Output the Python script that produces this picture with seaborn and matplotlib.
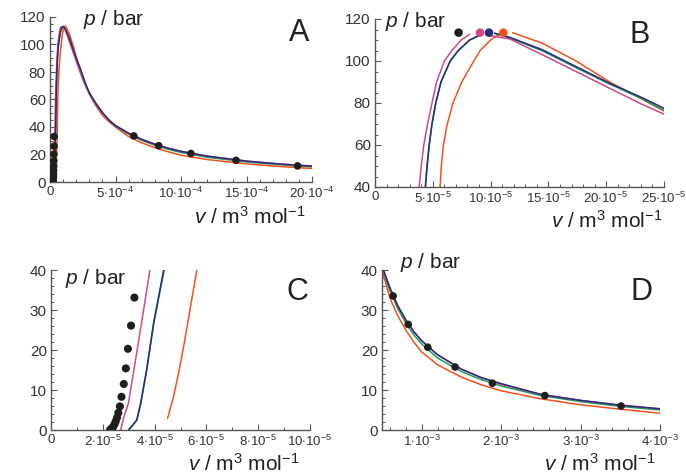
import numpy as np
import pandas as pd
import matplotlib
matplotlib.use("Agg")
import matplotlib.pyplot as plt
from matplotlib.ticker import MultipleLocator, FuncFormatter
import seaborn as sns

# ---------------- data (v in 1e-5 m3/mol, p in bar) ----------------
# liquid branches
v_liq_pink = [2.69, 2.80, 2.99, 3.20, 3.41, 3.82, 4.00, 4.22, 4.55, 4.93, 5.33, 6.00, 6.65, 7.46, 8.18]
p_liq_pink = [0.0, 3.0, 6.7, 15.0, 23.3, 40.0, 50.0, 60.0, 70.0, 80.0, 90.0, 100.0, 105.0, 110.0, 112.7]
v_liq_navy = [2.99, 3.15, 3.31, 3.46, 3.69, 3.96, 4.35, 4.50, 4.68, 4.92, 5.25, 5.70, 6.50, 7.20, 8.18, 9.34]
p_liq_navy = [0.0, 1.2, 2.5, 6.7, 15.0, 26.7, 40.0, 50.0, 60.0, 70.0, 80.0, 90.0, 100.0, 105.0, 110.0, 113.0]
v_liq_green = [3.00, 3.16, 3.32, 3.47, 3.70, 3.97, 4.37, 4.52, 4.70, 4.94, 5.27, 5.72, 6.52, 7.22, 8.20, 9.34]
p_liq_green = [0.0, 1.2, 2.5, 6.7, 15.0, 26.7, 40.0, 50.0, 60.0, 70.0, 80.0, 90.0, 100.0, 105.0, 110.0, 113.0]
v_liq_orange = [4.50, 4.73, 4.95, 5.12, 5.63, 5.74, 5.92, 6.25, 6.75, 7.50, 8.55, 9.10, 10.00, 10.64]
p_liq_orange = [2.9, 8.3, 15.0, 20.8, 40.0, 50.0, 60.0, 70.0, 80.0, 90.0, 100.0, 105.0, 110.0, 112.4]

# vapour branches
v_vap_pink = [9.6, 11.65, 14.5, 17.4, 20.3, 23.2, 25, 27.5, 30, 32.5, 35, 40, 45, 50, 60, 70, 80,
              90, 100, 120, 150, 175, 200, 250, 300, 350, 400]
p_vap_pink = [112.4, 110.5, 102.9, 95.0, 87.0, 79.1, 74.7, 69.5, 64.5, 60.5, 57.0, 50.3, 45.0, 41.0,
              35.5, 31.0, 27.5, 24.6, 22.3, 18.8, 15.2, 13.1, 11.4, 8.9, 7.4, 6.2, 5.3]
v_vap_navy = [10.35, 11.65, 14.5, 17.4, 20.3, 23.2, 25, 27.5, 30, 32.5, 35, 40, 45, 50, 60, 70, 80,
              90, 100, 120, 150, 175, 200, 250, 300, 350, 400]
p_vap_navy = [113.2, 111.3, 105.3, 97.3, 89.4, 82.3, 77.5, 70.5, 65.0, 61.0, 57.3, 50.5, 45.2, 41.0,
              35.5, 31.0, 27.5, 24.6, 22.3, 18.8, 15.2, 13.1, 11.6, 8.9, 7.4, 6.2, 5.3]
v_vap_green = [10.35, 11.65, 14.5, 17.4, 20.3, 23.2, 25, 27.5, 30, 32.5, 35, 40, 45, 50, 60, 70, 80,
               90, 100, 120, 150, 175, 200, 250, 300, 350, 400]
p_vap_green = [113.2, 111.0, 104.8, 96.8, 89.0, 81.8, 76.5, 70.0, 64.7, 60.6, 56.9, 50.2, 44.8, 40.5,
               34.8, 30.3, 26.7, 23.8, 21.5, 18.0, 14.6, 12.6, 11.0, 8.6, 7.1, 5.9, 5.0]
v_vap_orange = [11.9, 14.5, 17.4, 20.3, 23.2, 25, 27.5, 30, 32.5, 35, 40, 45, 50, 60, 70, 80,
                90, 100, 120, 150, 175, 200, 250, 300, 350, 400]
p_vap_orange = [113.5, 108.4, 100.0, 90.0, 81.5, 76.2, 69.5, 64.0, 59.5, 55.5, 48.5, 43.8, 40.0,
                33.0, 28.5, 25.0, 22.0, 19.5, 16.3, 13.2, 11.3, 9.8, 7.8, 6.3, 5.2, 4.2]

# critical points
crit_models = ["exp", "pink", "navy", "orange"]
crit_v = [7.23, 9.08, 9.86, 11.1]
crit_p = [113.5, 113.5, 113.5, 113.5]

# experimental coexistence points
v_exp_liq = [3.22, 3.09, 2.97, 2.89, 2.81, 2.72, 2.66, 2.60, 2.55, 2.50, 2.45, 2.40, 2.34, 2.28]
p_exp_liq = [33.1, 26.1, 20.3, 15.4, 11.5, 8.3, 5.9, 4.3, 3.1, 2.2, 1.4, 0.8, 0.35, 0.05]
v_exp_vap = [64.0, 83.0, 107.6, 142.0, 189.0, 255.0, 351.0]
p_exp_vap = [33.5, 26.4, 20.7, 15.75, 11.7, 8.6, 6.0]

colors = {"pink": "#d2468a", "navy": "#2b2b7c", "green": "#1a9e5a", "orange": "#f4511a", "exp": "#1e1e1e"}

# ---------------- build tables ----------------
rows = []
def add(model, branch, vs, ps):
    for v, p in zip(vs, ps):
        rows.append({"v": v * 1e-5, "p": p, "model": model, "seg": f"{model}-{branch}"})

add("orange", "liq", v_liq_orange, p_liq_orange)
add("orange", "vap", v_vap_orange, p_vap_orange)
add("green", "liq", v_liq_green, p_liq_green)
add("green", "vap", v_vap_green, p_vap_green)
add("pink", "liq", v_liq_pink, p_liq_pink)
add("pink", "vap", v_vap_pink, p_vap_pink)
add("navy", "liq", v_liq_navy, p_liq_navy)
add("navy", "vap", v_vap_navy, p_vap_navy)
curves = pd.DataFrame(rows)

exp_df = pd.DataFrame({"v": np.array(v_exp_liq + v_exp_vap) * 1e-5,
                       "p": p_exp_liq + p_exp_vap})
crit_df = pd.DataFrame({"v": np.array(crit_v) * 1e-5, "p": crit_p, "model": crit_models})

# ---------------- style ----------------
sns.set_style("ticks")
plt.rcParams["font.family"] = ["Liberation Sans", "DejaVu Sans"]
plt.rcParams["mathtext.fontset"] = "custom"
plt.rcParams["mathtext.rm"] = "Liberation Sans"
plt.rcParams["mathtext.it"] = "Liberation Sans:italic"
plt.rcParams["mathtext.bf"] = "Liberation Sans:bold"

W, H = 686, 474
fig = plt.figure(figsize=(W / 100, H / 100), dpi=100)

def rect(l, r, t, b):
    return [l / W, (H - b) / H, (r - l) / W, (b - t) / H]

panels = {
    "A": dict(rect=rect(50, 312, 17, 182), xlim=(0, 20e-4), ylim=(0, 120), exp=-4, xmaj=5e-4, xmin=1e-4,
              ymaj=20, ymin=5, plabel=(0.126, 0.985), letter=(0.95, 0.905), vlabel=(0.975, -0.21)),
    "B": dict(rect=rect(375, 664, 19, 187), xlim=(0, 25e-5), ylim=(40, 120), exp=-5, xmaj=5e-5, xmin=1e-5,
              ymaj=20, ymin=5, plabel=(0.035, 0.985), letter=(0.917, 0.905), vlabel=(0.995, -0.2)),
    "C": dict(rect=rect(51, 310, 270, 430), xlim=(0, 10e-5), ylim=(0, 40), exp=-5, xmaj=2e-5, xmin=1e-5,
              ymaj=10, ymin=2, plabel=(0.054, 0.95), letter=(0.95, 0.86), vlabel=(0.96, -0.21)),
    "D": dict(rect=rect(382, 660, 270, 430), xlim=(0.5e-3, 4e-3), ylim=(0, 40), exp=-3, xmaj=1e-3, xmin=2e-4,
              ymaj=10, ymin=2, plabel=(0.065, 1.05), letter=(0.935, 0.86), vlabel=(0.985, -0.21)),
}

def make_fmt(e):
    def f(x, pos):
        if abs(x) < 1e-12:
            return "0"
        m = x / 10.0 ** e
        return r"$%d{\cdot}10^{%d}$" % (int(round(m)), e)
    return f

spine_c = "#555555"
pal = {k: colors[k] for k in ["orange", "green", "pink", "navy"]}

for name, cfg in panels.items():
    ax = fig.add_axes(cfg["rect"])
    sns.lineplot(data=curves, x="v", y="p", hue="model", units="seg", estimator=None, sort=False,
                 palette=pal, hue_order=["orange", "green", "pink", "navy"], linewidth=1.1,
                 legend=False, ax=ax)
    if name == "B":
        sns.scatterplot(data=crit_df, x="v", y="p", hue="model", palette=colors, s=38,
                        edgecolor="none", legend=False, ax=ax, zorder=5)
    else:
        sns.scatterplot(data=exp_df, x="v", y="p", color=colors["exp"], s=30 if name != "C" else 34,
                        edgecolor="none", legend=False, ax=ax, zorder=5)
    ax.set_xlim(*cfg["xlim"])
    ax.set_ylim(*cfg["ylim"])
    ax.set_xlabel("")
    ax.set_ylabel("")
    ax.xaxis.set_major_locator(MultipleLocator(cfg["xmaj"]))
    ax.xaxis.set_minor_locator(MultipleLocator(cfg["xmin"]))
    ax.yaxis.set_major_locator(MultipleLocator(cfg["ymaj"]))
    ax.yaxis.set_minor_locator(MultipleLocator(cfg["ymin"]))
    ax.xaxis.set_major_formatter(FuncFormatter(make_fmt(cfg["exp"])))
    ax.tick_params(which="both", direction="in", color=spine_c, labelcolor="#333333")
    ax.tick_params(which="major", length=4, width=0.8, labelsize=11, pad=3)
    ax.tick_params(which="minor", length=2.5, width=0.7)
    ax.tick_params(axis="x", which="major", labelsize=9.5)
    sns.despine(ax=ax)
    for s in ["left", "bottom"]:
        ax.spines[s].set_color(spine_c)
        ax.spines[s].set_linewidth(1.0)
    ax.text(*cfg["plabel"], r"$p$ / bar", transform=ax.transAxes, fontsize=15, color="#222222",
            ha="left", va="center")
    ax.text(*cfg["letter"], name, transform=ax.transAxes, fontsize=22, color="#222222",
            ha="center", va="center")
    ax.text(*cfg["vlabel"], r"$v$ / m$^{3}$ mol$^{-1}$", transform=ax.transAxes, fontsize=15,
            color="#222222", ha="right", va="center", clip_on=False)

fig.savefig("out.png", dpi=100)
